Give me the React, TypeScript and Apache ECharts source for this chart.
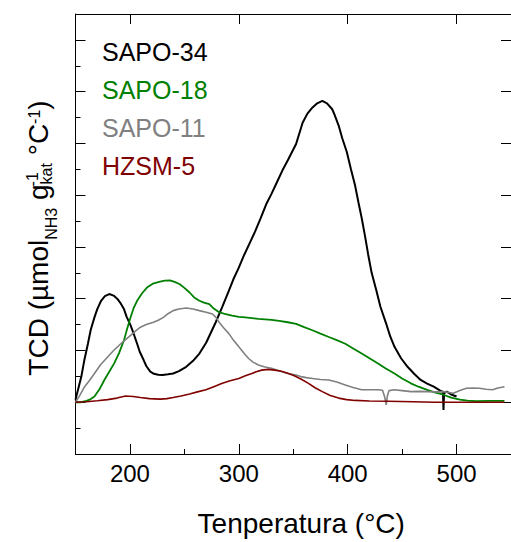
import React, { useEffect, useRef } from "react";
import * as echarts from "echarts";

const FONT = '"Liberation Sans", Arial, sans-serif';

// x: temperature (°C), y: TCD signal
const sapo34T = [150, 153, 155.4, 158, 161.4, 164, 167.4, 170, 173.5, 177, 181, 185, 188.5, 191, 194.5, 197, 200.6, 203, 206.6, 209, 212.6, 215, 218.7, 222, 226, 230, 235, 239.7, 245, 251.7, 258, 263.8, 270, 278.8, 285, 290.9, 295, 300, 305, 310, 315, 320, 325.5, 330, 335, 340, 345, 352.6, 358.6, 363, 367.7, 372, 376.7, 381, 385.8, 388, 391.7, 395, 399.2, 403, 406.7, 410, 412.9, 416, 418.8, 422, 426.4, 430, 435.4, 439, 443, 449, 455, 461, 467, 473, 479, 485, 487.5, 488, 488.5, 491, 495, 500];
const sapo34V = [0.1, 0.6, 1.0, 1.6, 2.26, 2.8, 3.28, 3.6, 3.92, 4.1, 4.18, 4.12, 3.99, 3.85, 3.6, 3.3, 2.97, 2.7, 2.26, 1.95, 1.63, 1.4, 1.18, 1.1, 1.06, 1.05, 1.08, 1.11, 1.2, 1.37, 1.6, 1.88, 2.3, 3.09, 3.7, 4.31, 4.75, 5.2, 5.7, 6.15, 6.6, 7.1, 7.68, 8.05, 8.5, 8.95, 9.35, 9.98, 10.8, 11.15, 11.39, 11.55, 11.64, 11.55, 11.32, 11.1, 10.69, 10.2, 9.67, 9.0, 8.39, 7.7, 7.11, 6.4, 5.71, 5.0, 4.31, 3.7, 3.03, 2.55, 2.14, 1.7, 1.37, 1.1, 0.86, 0.72, 0.6, 0.45, 0.4, -0.3, 0.35, 0.41, 0.3, 0.22];

const sapo18T = [150, 155, 160, 163, 167.4, 172, 176.5, 181, 185.5, 190, 194.5, 197.5, 200.6, 203.5, 206.6, 211, 215.6, 221, 227.7, 232, 236.7, 241, 245.8, 250, 254.8, 259, 263.8, 268, 272.9, 277, 281.9, 288, 293.9, 300, 305.9, 312, 318, 324, 330, 337, 345, 352.6, 360, 367.6, 375, 382.7, 390, 397.8, 405, 412.9, 420, 427.9, 435, 443, 450, 458, 465, 473, 480, 488, 495, 503.2, 510, 518, 530, 544];
const sapo18V = [0, 0, 0.05, 0.1, 0.22, 0.5, 0.86, 1.18, 1.5, 1.9, 2.39, 2.85, 3.28, 3.65, 3.92, 4.2, 4.43, 4.58, 4.66, 4.7, 4.71, 4.65, 4.56, 4.42, 4.24, 4.05, 3.92, 3.85, 3.79, 3.62, 3.48, 3.4, 3.35, 3.3, 3.28, 3.25, 3.22, 3.2, 3.18, 3.14, 3.09, 3.03, 2.9, 2.78, 2.65, 2.52, 2.4, 2.26, 2.08, 1.88, 1.7, 1.5, 1.3, 1.11, 0.92, 0.73, 0.6, 0.48, 0.38, 0.29, 0.18, 0.1, 0.06, 0.04, 0.05, 0.05];

const sapo11T = [150, 153, 158.4, 163, 167.4, 173, 179.5, 185, 191.6, 196, 200.6, 205, 209.6, 215, 221.6, 226, 230.7, 235, 239.7, 245, 251.7, 258, 263.8, 270, 275.8, 279, 281.9, 286, 290.9, 295, 300, 305, 309, 313, 318, 324, 330, 337, 345, 352.6, 357, 362, 367.7, 375, 382.7, 390, 397.8, 405, 412.8, 420, 427.9, 432, 434, 435.4, 436.5, 438, 443, 450, 458, 465, 473, 480, 488, 497, 503, 509, 515, 521, 527, 533, 538, 544];
const sapo11V = [0, 0.2, 0.6, 0.85, 1.11, 1.45, 1.75, 2.0, 2.26, 2.42, 2.58, 2.75, 2.9, 3.0, 3.09, 3.17, 3.28, 3.42, 3.54, 3.6, 3.64, 3.6, 3.54, 3.48, 3.41, 3.28, 3.09, 2.88, 2.65, 2.4, 2.14, 1.88, 1.69, 1.55, 1.44, 1.36, 1.31, 1.22, 1.11, 1.05, 0.99, 0.95, 0.92, 0.88, 0.86, 0.78, 0.67, 0.57, 0.48, 0.48, 0.48, 0.46, 0.2, -0.1, 0.25, 0.45, 0.48, 0.45, 0.41, 0.42, 0.41, 0.4, 0.41, 0.35, 0.45, 0.54, 0.55, 0.54, 0.5, 0.48, 0.55, 0.6];

const hzsmT = [150, 160, 170, 179.5, 188, 196, 203, 209.6, 218, 227.7, 234, 239.7, 247, 254.8, 262, 269.8, 277, 284.9, 292, 300, 306, 312, 316, 321, 327, 333, 339, 345, 351, 357, 364, 370, 376.7, 384, 391.7, 399, 406.8, 420, 437, 460, 480, 500, 520, 544];
const hzsmV = [0, 0.02, 0.06, 0.1, 0.16, 0.24, 0.22, 0.18, 0.14, 0.12, 0.14, 0.18, 0.24, 0.32, 0.4, 0.48, 0.6, 0.73, 0.83, 0.92, 1.02, 1.11, 1.18, 1.24, 1.27, 1.24, 1.2, 1.12, 1.02, 0.9, 0.73, 0.56, 0.41, 0.26, 0.16, 0.1, 0.07, 0.05, 0.04, 0.02, 0, 0, 0, 0];

const seriesNames = ["SAPO-34", "SAPO-18", "SAPO-11", "HZSM-5"];
const seriesColors = ["#000000", "#008000", "#808080", "#800000"];

const xTitle = "Tenperatura (°C)";

const zip = (xs: number[], ys: number[]) => xs.map((x, i) => [x, ys[i]]);

function measure(text: string, size: number): number {
  const c = document.createElement("canvas").getContext("2d");
  if (!c) return text.length * size * 0.55;
  c.font = `${size}px ${FONT}`;
  return c.measureText(text).width;
}

function buildYTitle() {
  const MAIN = 28;
  const SMALL = 16;
  type P = { t: string; s: number; v: number; u: number };
  const parts: P[] = [];
  let u = 0;
  const add = (t: string, s: number, v: number) => {
    parts.push({ t, s, v, u });
    u += measure(t, s);
  };
  add("TCD (µmol", MAIN, 0);
  add("NH3", SMALL, 8.4);
  add(" g", MAIN, 0);
  const gEnd = u;
  parts.push({ t: "-1", s: SMALL, v: -10.3, u: gEnd - 2 });
  parts.push({ t: "kat", s: SMALL, v: 3.6, u: gEnd });
  u = Math.max(gEnd + measure("kat", SMALL), gEnd - 2 + measure("-1", SMALL));
  add(" °C", MAIN, 0);
  add("-1", SMALL, -8.6);
  add(")", MAIN, 0);
  const total = u;
  const centerY = 238;
  return {
    type: "group",
    x: 48.3,
    y: centerY + total / 2,
    rotation: Math.PI / 2,
    silent: true,
    children: parts.map((p) => ({
      type: "text",
      x: p.u,
      y: p.v - 0.3465 * p.s,
      style: {
        text: p.t,
        fontSize: p.s,
        fontFamily: FONT,
        fill: "#000",
        align: "left",
        verticalAlign: "middle",
      },
    })),
  };
}

export default function App() {
  const ref = useRef<HTMLDivElement>(null);
  useEffect(() => {
    if (!ref.current) return;
    const chart = echarts.init(ref.current, undefined, { renderer: "svg" });
    const axisLine = { show: true, onZero: false, lineStyle: { color: "#000", width: 1 } };
    const dataSets = [
      zip(sapo34T, sapo34V),
      zip(sapo18T, sapo18V),
      zip(sapo11T, sapo11V),
      zip(hzsmT, hzsmV),
    ];
    const widths = [2, 1.8, 1.6, 1.6];
    const order = [3, 2, 1, 0];
    chart.setOption({
      animation: false,
      backgroundColor: "#fff",
      textStyle: { fontFamily: FONT },
      grid: { left: 75.5, right: -7.5, top: 14, bottom: 84 },
      legend: {
        orient: "vertical",
        left: 97,
        top: 39,
        icon: "none",
        itemWidth: 0,
        itemHeight: 25,
        itemGap: 13,
        padding: 0,
        selectedMode: false,
        textStyle: { fontSize: 25, fontFamily: FONT, lineHeight: 25 },
        data: seriesNames.map((n, i) => ({ name: n, textStyle: { color: seriesColors[i] } })),
      },
      xAxis: [
        {
          type: "value",
          position: "bottom",
          min: 150,
          max: 550,
          splitNumber: 4,
          axisLine,
          axisTick: { show: true, inside: true, length: 10, lineStyle: { color: "#000" } },
          axisLabel: {
            show: true,
            margin: 7,
            fontSize: 24,
            fontFamily: FONT,
            color: "#000",
            showMinLabel: false,
            showMaxLabel: false,
            formatter: (v: number) => (v % 100 === 0 ? String(v) : ""),
          },
          splitLine: { show: false },
          name: xTitle,
          nameLocation: "middle",
          nameGap: 55,
          nameTextStyle: { fontSize: 28, fontFamily: FONT, color: "#000", padding: [0, 0, 0, 16] },
        },
        {
          type: "value",
          position: "top",
          min: 150,
          max: 550,
          splitNumber: 4,
          axisLine,
          axisTick: { show: true, inside: true, length: 10, lineStyle: { color: "#000" } },
          axisLabel: { show: false },
          splitLine: { show: false },
        },
        {
          type: "value",
          position: "bottom",
          min: 150,
          max: 550,
          interval: 50,
          axisLine: { show: false, onZero: false },
          axisTick: { show: true, inside: true, length: 5, lineStyle: { color: "#000" } },
          axisLabel: { show: false },
          splitLine: { show: false },
        },
      ],
      yAxis: [
        {
          type: "value",
          position: "left",
          min: -2,
          max: 15,
          interval: 2,
          axisLine,
          axisTick: { show: true, inside: true, length: 10, lineStyle: { color: "#000" } },
          axisLabel: { show: false },
          splitLine: { show: false },
        },
        {
          type: "value",
          position: "left",
          min: -2,
          max: 15,
          interval: 1,
          axisLine: { show: false, onZero: false },
          axisTick: { show: true, inside: true, length: 5, lineStyle: { color: "#000" } },
          axisLabel: { show: false },
          splitLine: { show: false },
        },
        {
          type: "value",
          position: "right",
          min: -2,
          max: 15,
          interval: 2,
          axisLine,
          axisTick: { show: true, inside: true, length: 10, lineStyle: { color: "#000" } },
          axisLabel: { show: false },
          splitLine: { show: false },
        },
      ],
      series: order.map((i) => ({
        name: seriesNames[i],
        type: "line",
        xAxisIndex: 0,
        yAxisIndex: 0,
        data: dataSets[i],
        showSymbol: false,
        symbol: "none",
        smooth: false,
        color: seriesColors[i],
        lineStyle: { color: seriesColors[i], width: widths[i] },
        z: 2 + (3 - order.indexOf(i)),
      })),
      graphic: [buildYTitle()],
    });
    return () => chart.dispose();
  }, []);
  return (
    <div
      ref={ref}
      style={{ position: "absolute", left: 0, top: 0, width: 511, height: 542 }}
    />
  );
}
